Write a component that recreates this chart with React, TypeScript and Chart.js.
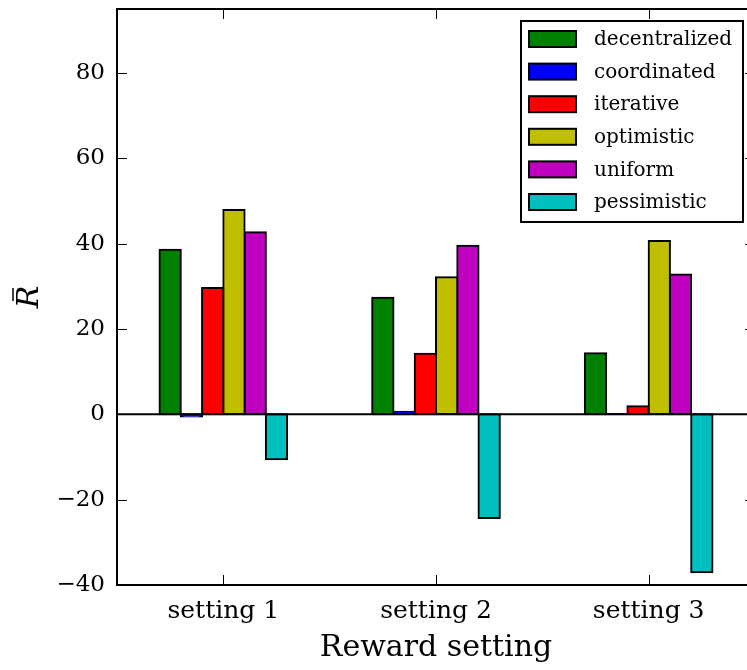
import React, { useEffect, useRef } from 'react';
import { Chart, registerables } from 'chart.js';

Chart.register(...registerables);

// Mean reward per policy under each reward setting
const categories = ['setting 1', 'setting 2', 'setting 3'];
const seriesNames = ['decentralized', 'coordinated', 'iterative', 'optimistic', 'uniform', 'pessimistic'];
const decentralized = [38.6, 27.3, 14.3];
const coordinated = [-0.5, 0.6, 0.1];
const iterative = [29.6, 14.2, 1.9];
const optimistic = [47.9, 32.1, 40.6];
const uniform = [42.7, 39.5, 32.8];
const pessimistic = [-10.5, -24.3, -37.0];
const seriesColors = ['#008000', '#0000ff', '#ff0000', '#bfbf00', '#bf00bf', '#00bfbf'];
const yTicks = [-40, -20, 0, 20, 40, 60, 80];
const yMin = -40;
const yMax = 95;

const CANVAS_W = 800;
const CANVAS_H = 670;
const SERIF = '"DejaVu Serif", "Liberation Serif", serif';

const seriesValues = [decentralized, coordinated, iterative, optimistic, uniform, pessimistic];

const fmtTick = (v: number) => (v < 0 ? '\u2212' + Math.abs(v) : String(v));

// Spines, inward ticks, zero line, y label and the boxed legend
const framePlugin = {
  id: 'frame',
  afterDatasetsDraw(chart: any) {
    const { ctx, chartArea } = chart;
    const { left, right, top, bottom } = chartArea;
    const xs = chart.scales.x;
    const ys = chart.scales.y;
    ctx.save();
    // zero line
    const y0 = ys.getPixelForValue(0);
    ctx.strokeStyle = '#000';
    ctx.lineWidth = 2;
    ctx.beginPath();
    ctx.moveTo(left, y0);
    ctx.lineTo(right, y0);
    ctx.stroke();
    // top spine
    ctx.beginPath();
    ctx.moveTo(left - 1, top);
    ctx.lineTo(right, top);
    ctx.stroke();
    // inward ticks
    ctx.lineWidth = 1;
    ctx.strokeStyle = '#000';
    const tl = 10;
    yTicks.forEach((v) => {
      const y = Math.round(ys.getPixelForValue(v)) + 0.5;
      ctx.beginPath();
      ctx.moveTo(left, y);
      ctx.lineTo(left + tl, y);
      ctx.moveTo(right, y);
      ctx.lineTo(right - tl, y);
      ctx.stroke();
    });
    categories.forEach((_, i) => {
      const x = Math.round(xs.getPixelForValue(i)) + 0.5;
      ctx.beginPath();
      ctx.moveTo(x, bottom);
      ctx.lineTo(x, bottom - tl);
      ctx.moveTo(x, top);
      ctx.lineTo(x, top + tl);
      ctx.stroke();
    });
    ctx.restore();
  },
  afterDraw(chart: any) {
    const { ctx } = chart;
    ctx.save();
    // y axis label: R with an overbar, rotated
    ctx.translate(30, 297);
    ctx.rotate(-Math.PI / 2);
    ctx.fillStyle = '#000';
    ctx.font = `italic 30px ${SERIF}`;
    ctx.textAlign = 'center';
    ctx.textBaseline = 'middle';
    ctx.fillText('R', 0, 0);
    ctx.strokeStyle = '#000';
    ctx.lineWidth = 1.5;
    ctx.beginPath();
    ctx.moveTo(-4, -17);
    ctx.lineTo(9, -17);
    ctx.stroke();
    ctx.restore();

    // legend
    ctx.save();
    const bx = 521, by = 21, bw = 222, bh = 201;
    ctx.fillStyle = '#fff';
    ctx.fillRect(bx, by, bw, bh);
    ctx.strokeStyle = '#000';
    ctx.lineWidth = 2;
    ctx.strokeRect(bx, by, bw, bh);
    ctx.font = `20px ${SERIF}`;
    ctx.textAlign = 'left';
    ctx.textBaseline = 'middle';
    seriesNames.forEach((name, i) => {
      const cy = 39 + i * 32.6;
      ctx.fillStyle = seriesColors[i];
      ctx.fillRect(529, cy - 8, 47, 16);
      ctx.lineWidth = 2;
      ctx.strokeStyle = '#000';
      ctx.strokeRect(529, cy - 8, 47, 16);
      ctx.fillStyle = '#000';
      ctx.fillText(name, 594, cy + 1);
    });
    ctx.restore();
  },
};

export default function App() {
  const canvasRef = useRef<HTMLCanvasElement | null>(null);

  useEffect(() => {
    if (!canvasRef.current) return;
    const chart = new Chart(canvasRef.current, {
      type: 'bar',
      data: {
        labels: categories,
        datasets: seriesNames.map((name, i) => ({
          label: name,
          data: seriesValues[i],
          backgroundColor: seriesColors[i],
          borderColor: '#000',
          borderWidth: 2,
          borderSkipped: false,
          inflateAmount: 1,
          categoryPercentage: 0.6,
          barPercentage: 1.0,
        })),
      },
      options: {
        animation: false,
        responsive: false,
        devicePixelRatio: 1,
        layout: { padding: { top: 9, right: 45, left: 0, bottom: 0 } },
        plugins: {
          legend: { display: false },
          tooltip: { enabled: false },
        },
        scales: {
          x: {
            grid: { display: false, drawTicks: false },
            border: { display: true, color: '#000', width: 2 },
            ticks: {
              color: '#000',
              font: { family: SERIF, size: 25 },
              padding: 11,
              maxRotation: 0,
              autoSkip: false,
            },
            title: {
              display: true,
              text: 'Reward setting',
              color: '#000',
              font: { family: SERIF, size: 30 },
              padding: { top: 0, bottom: 4 },
            },
            afterFit: (scale: any) => {
              scale.height = 85;
              scale.paddingLeft = 0;
              scale.paddingRight = 0;
            },
          },
          y: {
            min: yMin,
            max: yMax,
            grid: { display: false, drawTicks: false },
            border: { display: true, color: '#000', width: 2 },
            ticks: {
              color: '#000',
              font: { family: SERIF, size: 23 },
              padding: 12,
              callback: (v: any) => fmtTick(Number(v)),
            },
            afterBuildTicks: (scale: any) => {
              scale.ticks = yTicks.map((v) => ({ value: v }));
            },
            afterFit: (scale: any) => {
              scale.width = 117;
              scale.paddingTop = 0;
              scale.paddingBottom = 0;
            },
          },
        },
      },
      plugins: [framePlugin],
    });
    return () => chart.destroy();
  }, []);

  return (
    <div
      style={{
        position: 'fixed',
        left: 0,
        top: 0,
        width: 747,
        height: 670,
        overflow: 'hidden',
        background: '#fff',
      }}
    >
      <canvas
        ref={canvasRef}
        width={CANVAS_W}
        height={CANVAS_H}
        style={{ width: CANVAS_W, height: CANVAS_H, display: 'block' }}
      />
    </div>
  );
}
